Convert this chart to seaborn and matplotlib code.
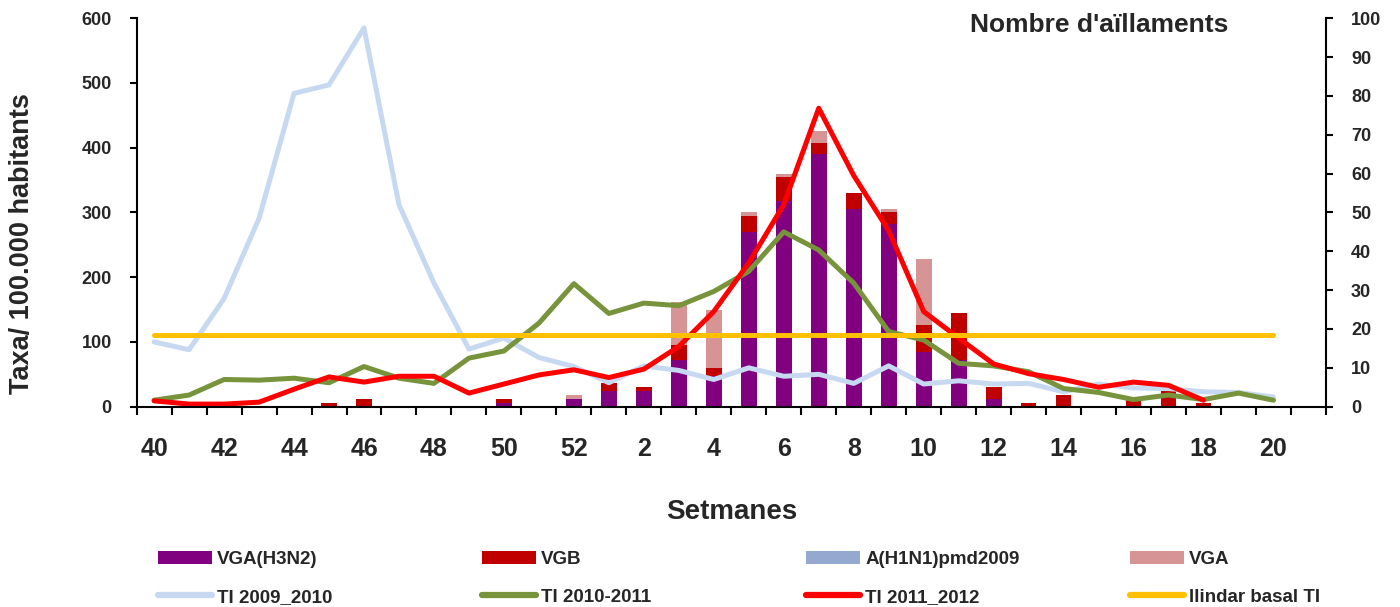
import numpy as np
import matplotlib
matplotlib.use("Agg")
import matplotlib.pyplot as plt
import seaborn as sns
from matplotlib.patches import Patch
from matplotlib.lines import Line2D

# epidemiological weeks, season 2011-2012 (week 21 is an empty slot on the axis)
weeks = [40, 41, 42, 43, 44, 45, 46, 47, 48, 49, 50, 51, 52,
         1, 2, 3, 4, 5, 6, 7, 8, 9, 10, 11, 12, 13, 14, 15, 16, 17, 18, 19, 20, 21]

# isolates per week (right axis)
vga_h3n2 = [0, 0, 0, 0, 0, 0, 0, 0, 0, 0, 1, 0, 2,
            4, 4, 12, 8, 45, 53, 65, 51, 47, 14, 12, 2, 0, 0, 0, 0, 0, 0, 0, 0, 0]
vgb = [0, 0, 0, 0, 0, 1, 2, 0, 0, 0, 1, 0, 0,
       2, 1, 4, 2, 4, 6, 3, 4, 3, 7, 12, 3, 1, 3, 0, 2, 4, 1, 0, 0, 0]
h1n1_pdm = [0] * 34
vga = [0, 0, 0, 0, 0, 0, 0, 0, 0, 0, 0, 0, 1,
       0, 0, 11, 15, 1, 1, 3, 0, 1, 17, 0, 0, 0, 0, 0, 0, 0, 0, 0, 0, 0]

# incidence rates per 100.000 inhabitants (left axis), weeks 40..20
ti_2009_2010 = [100, 88, 167, 291, 484, 497, 585, 312, 191, 89, 106, 76, 62,
                37, 63, 56, 42, 60, 47, 50, 36, 63, 35, 40, 35, 36, 23, 35, 29, 28, 23, 22, 15]
ti_2010_2011 = [10, 18, 42, 41, 44, 37, 62, 44, 36, 75, 86, 129, 190,
                144, 160, 156, 178, 209, 270, 242, 191, 116, 103, 67, 63, 54, 28, 22, 11, 18, 11, 21, 10]
# weeks 40..18
ti_2011_2012 = [9, 4, 4, 7, 27, 46, 38, 47, 47, 21, 35, 49, 57,
                45, 58, 93, 147, 222, 312, 461, 357, 272, 147, 106, 66, 51, 42, 30, 38, 33, 10]
llindar = 110

C_H3N2 = "#800080"
C_VGB = "#C00000"
C_H1N1 = "#95A9D0"
C_VGA = "#D69594"
C_0910 = "#C6D9F1"
C_1011 = "#77933C"
C_1112 = "#FF0000"
C_LLINDAR = "#FFC000"

sns.set_theme(style="ticks")
plt.rcParams["font.family"] = ["Liberation Sans", "DejaVu Sans"]
plt.rcParams["font.weight"] = "bold"

pos = np.arange(len(weeks))

fig = plt.figure(figsize=(14, 6.07), dpi=100)
ax = fig.add_axes([0.0976, 0.33, 0.8495, 0.64])
ax2 = ax.twinx()

# stacked bars: draw cumulative totals from the top layer down
layers = [(vga_h3n2, C_H3N2), (vgb, C_VGB), (h1n1_pdm, C_H1N1), (vga, C_VGA)]
cum = np.cumsum([np.array(v) for v, _ in layers], axis=0)
for i in range(len(layers) - 1, -1, -1):
    sns.barplot(x=pos, y=cum[i], ax=ax2, native_scale=True, width=0.45,
                color=layers[i][1], saturation=1, errorbar=None, linewidth=0)

# lines on the left axis
lw = 3.6
sns.lineplot(x=pos[:33], y=ti_2009_2010, ax=ax, color=C_0910, lw=lw, solid_capstyle="round")
sns.lineplot(x=pos[:33], y=ti_2010_2011, ax=ax, color=C_1011, lw=lw, solid_capstyle="round")
sns.lineplot(x=pos[:31], y=ti_2011_2012, ax=ax, color=C_1112, lw=lw, solid_capstyle="round")
sns.lineplot(x=[pos[0], pos[32]], y=[llindar, llindar], ax=ax, color=C_LLINDAR, lw=lw,
             solid_capstyle="round")

ax.set_zorder(ax2.get_zorder() + 1)
ax.patch.set_visible(False)

ax.set_xlim(-0.5, len(weeks) - 0.5)
ax.set_ylim(0, 600)
ax.set_yticks(range(0, 601, 100))
ax2.set_ylim(0, 100)
ax2.set_yticks(range(0, 101, 10))

ax.set_xticks(np.arange(-0.5, len(weeks), 1))
ax.set_xticklabels([])
lab_pos = pos[:33:2]
ax.set_xticks(lab_pos, minor=True)
ax.set_xticklabels([str(weeks[i]) for i in lab_pos], minor=True)
ax.tick_params(axis="x", which="major", length=6, width=1.5, color="black")
ax.tick_params(axis="x", which="minor", length=0, pad=22, labelsize=18)
ax.tick_params(axis="y", length=5, width=1.5, pad=13, labelsize=13, color="black")
ax2.tick_params(axis="y", length=5, width=1.5, pad=13, labelsize=13, color="black")
ax2.set_xlabel("")
ax2.set_ylabel("")

for s in ["top", "right"]:
    ax.spines[s].set_visible(False)
for s in ["top", "left", "bottom"]:
    ax2.spines[s].set_visible(False)
for s in ["left", "bottom"]:
    ax.spines[s].set_color("black")
    ax.spines[s].set_linewidth(1.5)
ax2.spines["right"].set_color("black")
ax2.spines["right"].set_linewidth(1.5)

ax.set_ylabel("Taxa/ 100.000 habitants", fontsize=19.5, fontweight="bold")
ax.yaxis.set_label_coords(-0.0964, 0.419)
ax.yaxis.label.set_va("center")
ax.set_xlabel("Setmanes", fontsize=20, fontweight="bold")
ax.xaxis.set_label_coords(0.5, -0.271)
ax.xaxis.label.set_va("center")
ax.text(0.9176, 0.983, "Nombre d'aïllaments", transform=ax.transAxes, ha="right", va="center",
        fontsize=19, fontweight="bold")

# legend: four equally spaced columns of two entries
columns = [
    [(Patch(facecolor=C_H3N2, edgecolor="none"), "VGA(H3N2)"),
     (Line2D([], [], color=C_0910, lw=4.5, solid_capstyle="round"), "TI 2009_2010")],
    [(Patch(facecolor=C_VGB, edgecolor="none"), "VGB"),
     (Line2D([], [], color=C_1011, lw=4.5, solid_capstyle="round"), "TI 2010-2011")],
    [(Patch(facecolor=C_H1N1, edgecolor="none"), "A(H1N1)pmd2009"),
     (Line2D([], [], color=C_1112, lw=4.5, solid_capstyle="round"), "TI 2011_2012")],
    [(Patch(facecolor=C_VGA, edgecolor="none"), "VGA"),
     (Line2D([], [], color=C_LLINDAR, lw=4.5, solid_capstyle="round"), "llindar basal TI")],
]
for k, col in enumerate(columns):
    leg = fig.legend([h for h, _ in col], [t for _, t in col], loc="center left",
                     bbox_to_anchor=((158 + 324 * k) / 1400, 1 - 578.5 / 607),
                     frameon=False, borderpad=0, borderaxespad=0, handlelength=2.9,
                     handleheight=0.65, handletextpad=0.25, labelspacing=1.1,
                     prop={"size": 13.5, "weight": "bold"})

fig.savefig("out.png", dpi=100)
